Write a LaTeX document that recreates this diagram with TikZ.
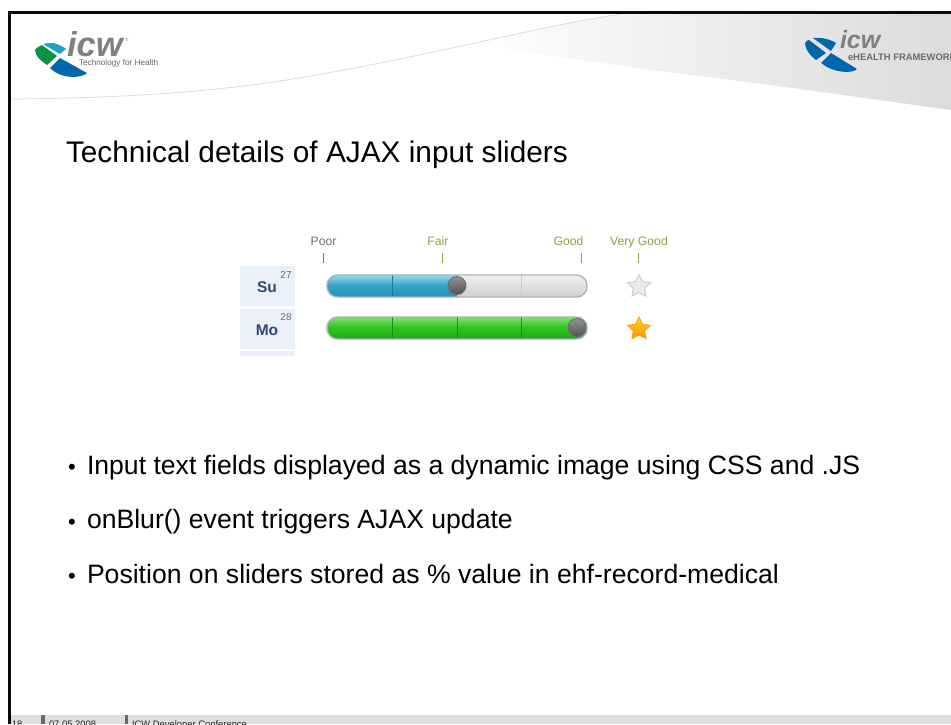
\documentclass[tikz,border=0pt]{standalone}
\usepackage{fontspec}
\setmainfont{Liberation Sans}
\usetikzlibrary{shapes.geometric}
\definecolor{frame}{HTML}{0A0A0A}
\definecolor{footgray}{HTML}{DEDEDE}
\definecolor{footbar}{HTML}{6A6A6A}
\definecolor{logogray}{HTML}{808080}
\definecolor{logoblue}{HTML}{0067AC}
\definecolor{logogreen}{HTML}{0E9248}
\definecolor{logocyan}{HTML}{1AA3C4}
\definecolor{daybox}{HTML}{EAF0F8}
\definecolor{dayink}{HTML}{2E4A72}
\definecolor{poorink}{HTML}{6E6E6E}
\definecolor{goodink}{HTML}{86A545}
\definecolor{barrim}{HTML}{A3B5B5}
\definecolor{bluehi}{HTML}{9AD6E6}
\definecolor{bluemid}{HTML}{35A6CA}
\definecolor{bluelo}{HTML}{2590B2}
\definecolor{greenhi}{HTML}{86E070}
\definecolor{greenmid}{HTML}{2FC622}
\definecolor{greenlo}{HTML}{22A418}
\definecolor{grayhi}{HTML}{F2F2F2}
\definecolor{graymid}{HTML}{E0E0E0}
\definecolor{graylo}{HTML}{CFCFCF}
\tikzset{
  x=1pt,y=-1pt,
  txt/.style={anchor=base west,inner sep=0pt,outer sep=0pt,text=black},
  headline/.style={txt,font=\fontsize{29.8}{32}\selectfont},
  bullettext/.style={txt,font=\fontsize{26.6}{30}\selectfont},
  bulletdot/.style={anchor=base,inner sep=0pt,outer sep=0pt,text=black,font=\fontsize{22}{24}\selectfont},
  foot/.style={txt,font=\fontsize{9.4}{12}\selectfont,text=black!85},
  scale label/.style={anchor=base,inner sep=0pt,font=\fontsize{12.2}{14}\selectfont},
  tick/.style={line width=1pt},
  day/.style={anchor=base,inner sep=0pt,text=dayink,font=\bfseries\fontsize{15.5}{17}\selectfont},
  dayno/.style={anchor=base,inner sep=0pt,text=poorink,font=\fontsize{10}{11}\selectfont},
  knob/.style={circle,minimum size=18pt,inner sep=0pt,draw=black!58,line width=.9pt,top color=black!42,bottom color=black!68},
  starshape/.style={star,star points=5,star point ratio=2.0,minimum size=24pt,inner sep=0pt,line width=.8pt},
  slidetick/.style={line width=.6pt},
}
\begin{document}
\begin{tikzpicture}
\useasboundingbox (0,0) rectangle (951,724);
\clip (0,0) rectangle (951,724);
\fill[white] (0,0) rectangle (951,724);
% swoosh
\shade[left color=white,middle color=black!6,right color=black!14]
  (470,44) .. controls (530,30) and (580,20) .. (627,13) -- (951,13) -- (951,110)
  .. controls (850,96) and (760,83) .. (651,70) -- cycle;
\draw[black!14,line width=.8pt] (10,99) .. controls (120,98) and (200,93) .. (280,81)
  .. controls (345,71) and (410,57) .. (480,42) .. controls (530,31) and (580,20) .. (627,13);
% left logo
\fill[logogreen] (35,50) .. controls (37,47) and (40,46) .. (42,45) -- (57,56) -- (47,65) .. controls (41,61) and (35,56) .. (35,50) -- cycle;
\fill[logocyan] (43,44) .. controls (47,43) and (50,43) .. (53,43) .. controls (58,44) and (62,46) .. (66,49) -- (60,54) -- cycle;
\fill[logoblue] (50,68) -- (60,58) -- (87,73) .. controls (82,78) and (62,80) .. (50,68) -- cycle;
\node[txt,text=logogray,font=\bfseries\itshape\fontsize{34.5}{38}\selectfont] (logoa) at (67,56) {icw};
\node[txt,text=logogray,font=\fontsize{4.5}{5}\selectfont] (regmark) at (125,41) {®};
\node[txt,text=black!60,font=\fontsize{8.2}{10}\selectfont] (tagline) at (79,65.5) {Technology for Health};
% right logo
\fill[logoblue] (805,43) .. controls (806,41) and (808,40) .. (809,40) -- (826,53) -- (816,60) .. controls (810,56) and (805,49) .. (805,43) -- cycle;
\fill[logoblue] (813,38) .. controls (820,37) and (830,39) .. (836,43) -- (831,51) -- cycle;
\fill[logoblue] (821,63) -- (831,53) -- (857,69) .. controls (852,74) and (833,73) .. (821,63) -- cycle;
\node[txt,text=logogray,font=\bfseries\itshape\fontsize{25}{28}\selectfont] (logob) at (840,48) {icw};
\node[txt,text=black!58,font=\bfseries\fontsize{9.4}{12}\selectfont] (framework) at (848,60) {eHEALTH FRAMEWORK};
% frame
\fill[frame] (8,11) rectangle (951,13.5);
\fill[frame] (8,11) rectangle (10.5,724);
% title
\node[headline] (title) at (66,162.7) {Technical details of AJAX input sliders};
% scale
\node[scale label,text=poorink] (poor) at (323.5,245) {Poor};
\node[scale label,text=goodink] (fair) at (438,245) {Fair};
\node[scale label,text=goodink] (good) at (568.5,245) {Good};
\node[scale label,text=goodink] (vgood) at (639,245) {Very Good};
\draw[tick,poorink] (323.5,253) -- (323.5,263);
\draw[tick,goodink] (442.5,253) -- (442.5,263);
\draw[tick,goodink] (581,253) -- (581,263);
\draw[tick,goodink] (638.5,253) -- (638.5,263);
% day column
\fill[daybox] (240,266) rectangle (295,306);
\fill[daybox] (240,309) rectangle (295,349);
\fill[daybox] (240,351) rectangle (295,356);
\node[day] (su) at (267,292.5) {Su};
\node[dayno] (n27) at (286,278) {27};
\node[day] (mo) at (267,335) {Mo};
\node[dayno] (n28) at (286,320) {28};
% slider 1
\begin{scope}
\clip[rounded corners=10.5pt] (327,275) rectangle (587,297);
\shade[top color=grayhi,bottom color=graymid] (457,275) rectangle (587,286);
\shade[top color=graymid,bottom color=graylo] (457,286) rectangle (587,297);
\shade[top color=bluehi,bottom color=bluemid] (327,275) rectangle (457,285);
\shade[top color=bluemid,bottom color=bluelo] (327,285) rectangle (457,297);
\draw[slidetick,bluelo!85!black] (392,275) -- (392,297);
\draw[slidetick,black!20] (521,275) -- (521,297);
\end{scope}
\draw[barrim,line width=1.3pt,rounded corners=10.5pt] (327,275) rectangle (587,297);
\node[knob] (knoba) at (457,285.5) {};
% slider 2
\begin{scope}
\clip[rounded corners=10.5pt] (327,317) rectangle (587,339);
\shade[top color=greenhi,bottom color=greenmid] (327,317) rectangle (587,327);
\shade[top color=greenmid,bottom color=greenlo] (327,327) rectangle (587,339);
\draw[slidetick,greenlo!85!black] (392,317) -- (392,339);
\draw[slidetick,greenlo!85!black] (457,317) -- (457,339);
\draw[slidetick,greenlo!85!black] (521,317) -- (521,339);
\end{scope}
\draw[barrim,line width=1.3pt,rounded corners=10.5pt] (327,317) rectangle (587,339);
\node[knob] (knobb) at (577,327.5) {};
% stars
\node[starshape,draw=black!22,fill=black!8] (stara) at (639,286.5) {};
\node[starshape,draw=orange!75!yellow,top color=yellow!55!orange!80,bottom color=orange!85!yellow] (starb) at (639,329) {};
% bullets
\node[bulletdot] (d1) at (72,474) {•};
\node[bullettext] (b1) at (87,474) {Input text fields displayed as a dynamic image using CSS and .JS};
\node[bulletdot] (d2) at (72,529) {•};
\node[bullettext] (b2) at (87,528.5) {onBlur() event triggers AJAX update};
\node[bulletdot] (d3) at (72,583.5) {•};
\node[bullettext] (b3) at (87,583) {Position on sliders stored as \% value in ehf-record-medical};
% footer
\fill[footgray] (10.5,715) rectangle (951,724);
\fill[footbar] (41,715) rectangle (45,724);
\fill[footbar] (125,715) rectangle (128,724);
\node[foot] (fa) at (12,727) {18};
\node[foot] (fb) at (49,727) {07.05.2008};
\node[foot] (fc) at (132,727) {ICW Developer Conference};
\end{tikzpicture}
\end{document}
